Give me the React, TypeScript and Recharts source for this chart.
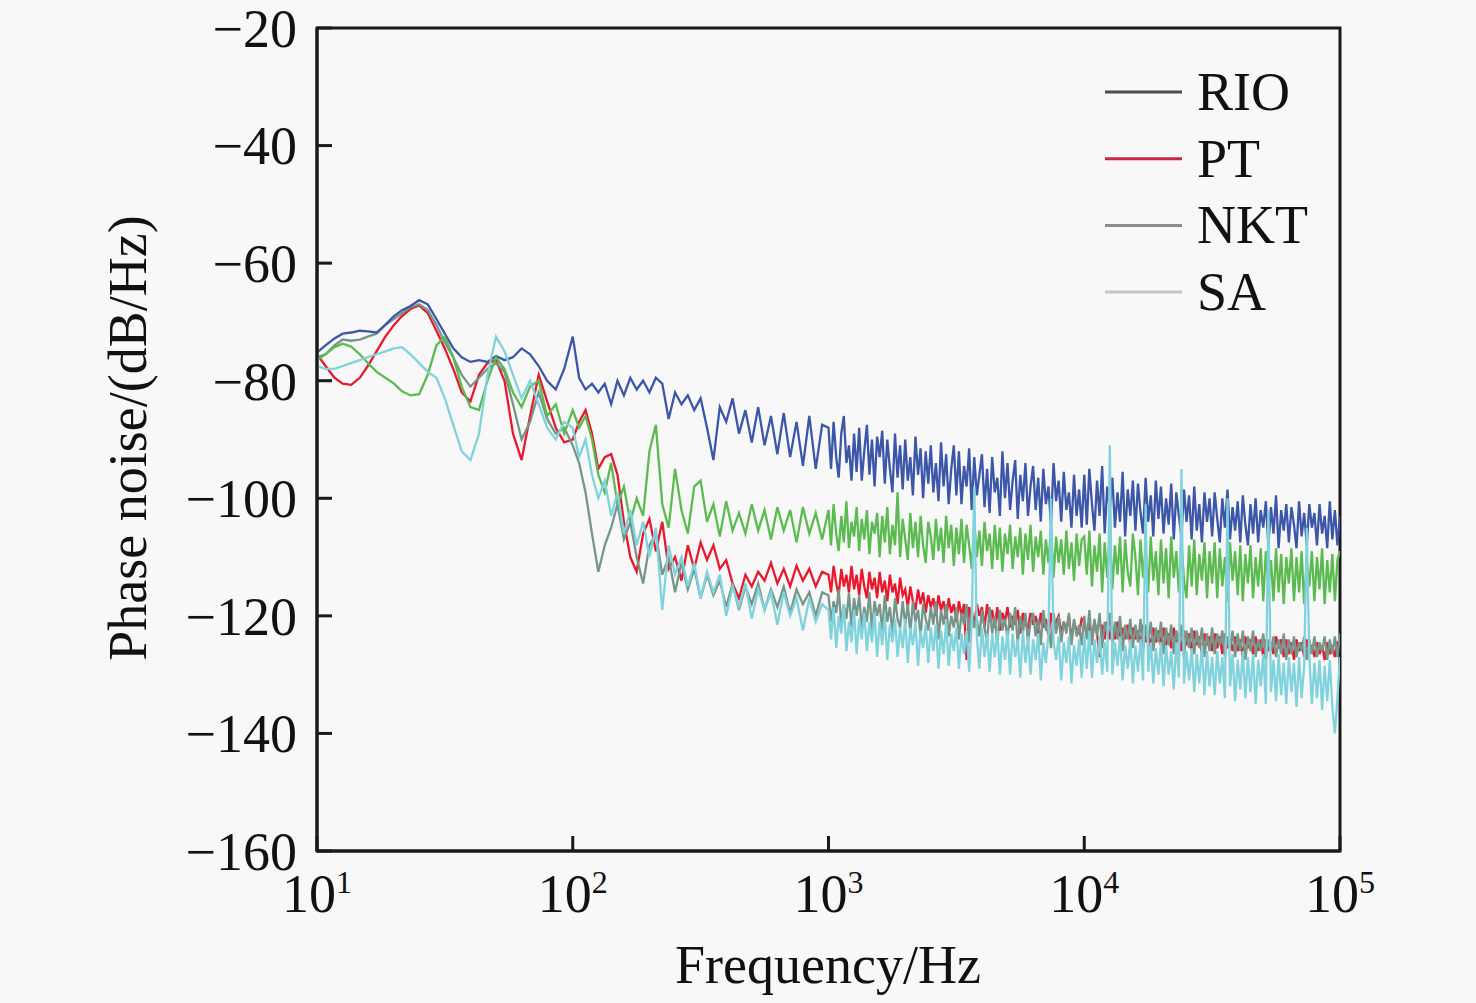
import React from 'react';
import { LineChart, Line, XAxis, YAxis, ReferenceArea, Legend, Label } from 'recharts';

const FONT = '"Liberation Serif", "Times New Roman", serif';
const INK = '#1a1a1a';

// frequency grid (Hz): 30 pts in 10-100, 40 in 100-1k, 100 per decade above
const freq = [
  10, 10.8, 11.7, 12.6, 13.6, 14.7, 15.8, 17.1, 18.5, 20,
  21.5, 23.2, 25.1, 27.1, 29.3, 31.6, 34.1, 36.8, 39.8, 43,
  46.4, 50.1, 54.1, 58.4, 63.1, 68.1, 73.6, 79.4, 85.8, 92.6,
  100, 105.9, 112.2, 118.9, 125.9, 133.4, 141.3, 149.6, 158.5, 167.9,
  177.8, 188.4, 199.5, 211.3, 223.9, 237.1, 251.2, 266.1, 281.8, 298.5,
  316.2, 335, 354.8, 375.8, 398.1, 421.7, 446.7, 473.2, 501.2, 530.9,
  562.3, 595.7, 631, 668.3, 707.9, 749.9, 794.3, 841.4, 891.3, 944.1,
  1000, 1023, 1047, 1072, 1096, 1122, 1148, 1175, 1202, 1230,
  1259, 1288, 1318, 1349, 1380, 1413, 1445, 1479, 1514, 1549,
  1585, 1622, 1660, 1698, 1738, 1778, 1820, 1862, 1905, 1950,
  1995, 2042, 2089, 2138, 2188, 2239, 2291, 2344, 2399, 2455,
  2512, 2570, 2630, 2692, 2754, 2818, 2884, 2951, 3020, 3090,
  3162, 3236, 3311, 3388, 3467, 3548, 3631, 3715, 3802, 3890,
  3981, 4074, 4169, 4266, 4365, 4467, 4571, 4677, 4786, 4898,
  5012, 5129, 5248, 5370, 5495, 5623, 5754, 5888, 6026, 6166,
  6310, 6457, 6607, 6761, 6918, 7079, 7244, 7413, 7586, 7762,
  7943, 8128, 8318, 8511, 8710, 8913, 9120, 9333, 9550, 9772,
  10000, 10230, 10470, 10720, 10960, 11220, 11480, 11750, 12020, 12300,
  12590, 12880, 13180, 13490, 13800, 14130, 14450, 14790, 15140, 15490,
  15850, 16220, 16600, 16980, 17380, 17780, 18200, 18620, 19050, 19500,
  19950, 20420, 20890, 21380, 21880, 22390, 22910, 23440, 23990, 24550,
  25120, 25700, 26300, 26920, 27540, 28180, 28840, 29510, 30200, 30900,
  31620, 32360, 33110, 33880, 34670, 35480, 36310, 37150, 38020, 38900,
  39810, 40740, 41690, 42660, 43650, 44670, 45710, 46770, 47860, 48980,
  50120, 51290, 52480, 53700, 54950, 56230, 57540, 58880, 60260, 61660,
  63100, 64570, 66070, 67610, 69180, 70790, 72440, 74130, 75860, 77620,
  79430, 81280, 83180, 85110, 87100, 89130, 91200, 93330, 95500, 97720,
  100000,
];

const rio = [
  -75.2, -74, -72.8, -72, -71.8, -71.5, -71.6, -71.8, -70.5, -69,
  -68, -67.3, -66.3, -67, -69.5, -72, -74.5, -76, -76.8, -76.5,
  -76.8, -75.8, -76.5, -76, -74.5, -75.5, -77.5, -80, -81.5, -78,
  -72.5, -79.5, -81.5, -80.5, -82, -80.5, -84, -80, -82.5, -79.5,
  -81.5, -80, -82, -79.5, -80.5, -86.5, -82, -84, -82.5, -85,
  -83, -88, -93.5, -84.5, -87, -83, -89, -85, -90.5, -84.5,
  -91, -86, -92.5, -85.5, -93, -87, -94.5, -86, -95, -87.5,
  -88, -95, -87, -93, -96.5, -89, -86, -94, -91, -97,
  -89, -95.5, -88, -97, -92, -87.5, -96, -90, -98, -89.5,
  -93, -88.5, -97.5, -90, -95, -99, -89, -96.5, -91, -98.5,
  -90, -97, -93, -99.5, -89.5, -96, -91.5, -100, -92, -97.5,
  -91, -99, -94, -100.5, -90.5, -98, -92.5, -101, -95, -91,
  -99.5, -92, -101, -94.5, -98, -91.5, -102, -93, -99.5, -96,
  -92.5, -101.5, -95, -102.5, -93, -99, -96.5, -103, -92, -100,
  -94, -102, -97, -93.5, -103.5, -96, -100.5, -94, -103, -98,
  -94.5, -102, -96.5, -104, -95, -101, -98, -104.5, -94, -100.5,
  -97, -104, -95.5, -102, -99, -105, -96, -103, -98.5, -105,
  -96, -104.5, -95, -101, -105.5, -97, -103, -94.5, -106, -98,
  -102, -96.5, -105, -99, -104, -95.5, -106.5, -98.5, -103, -97,
  -105.5, -97.5, -102.5, -106, -96.5, -104, -99.5, -106.5, -97, -103.5,
  -98, -106, -100, -104.5, -97.5, -107, -99, -103, -106.5, -98.5,
  -104, -99.5, -107, -98, -105.5, -101, -107.5, -99, -104, -100,
  -106.5, -99, -103.5, -107.5, -100, -105, -98.5, -107, -101.5, -105.5,
  -100.5, -107.5, -99.5, -104.5, -108, -101, -106, -100, -107.5, -102,
  -105, -100.5, -108, -101.5, -106, -99.5, -108.5, -102, -105.5, -101,
  -107.5, -101.5, -104.5, -108.5, -100.5, -106.5, -102.5, -108, -101, -105,
  -102.5, -108, -101, -106, -103, -108.5, -100.5, -107, -102, -108,
  -103,
];

const pt = [
  -75.5, -77.5, -79.5, -80.5, -80.7, -79.5, -77.5, -75, -72.5, -70.5,
  -69, -67.8, -67.2, -68.5, -71.5, -74.5, -78, -82, -83.5, -79,
  -77, -76.5, -80, -89, -93.5, -86, -79, -83.5, -88, -90.5,
  -90, -87, -85, -89, -95, -93, -92.5, -96, -104, -110,
  -112.5, -106, -103.5, -109, -104, -112, -110, -114, -108, -112,
  -107.5, -110.5, -108, -112, -110.5, -114.5, -117, -113, -115, -112.5,
  -114, -111, -114.5, -112, -115, -111.5, -114, -112, -115, -112.5,
  -113, -116, -111.5, -114.5, -116.5, -112, -115, -113, -116, -111.5,
  -115.5, -113, -116.5, -112, -115, -117, -112.5, -115.5, -113.5, -117,
  -112.5, -116, -114, -117.5, -113, -116, -114.5, -118, -113.5, -116.5,
  -115.5, -118.5, -115, -117.5, -119, -115.5, -118, -116, -119.5, -116.5,
  -118.5, -117, -120, -116.5, -119, -117.5, -120.5, -117, -119.5, -118,
  -121, -117.5, -120, -118, -127.5, -118.5, -120.5, -121.5, -118, -120,
  -118.5, -122, -118, -121, -119, -122, -118.5, -122.5, -119.5, -121,
  -118.5, -122, -120, -121.5, -119, -123, -119.5, -121.5, -122, -119.5,
  -121.5, -120, -123, -119.5, -122, -120.5, -123.5, -119.5, -122, -121,
  -120, -123, -121, -122.5, -120, -124, -121, -122.5, -123, -120.5,
  -121, -123.5, -121.5, -124, -121, -123, -127, -121.5, -124, -121,
  -124, -122, -124, -121, -124.5, -122, -124, -121.5, -125, -122,
  -124, -122.5, -125, -121.5, -124.5, -122.5, -125.5, -122, -124.5, -122.5,
  -125, -122, -125, -123, -125.5, -122, -124.5, -123, -126, -122.5,
  -125, -123, -126, -122.5, -125, -123.5, -126.5, -123, -125, -123.5,
  -126, -123, -125.5, -123.5, -126.5, -123, -125.5, -124, -126, -123.5,
  -126, -124, -127, -123.5, -125.5, -124, -126.5, -123.5, -126, -124,
  -127, -124, -126, -124.5, -126.5, -123.5, -125.5, -124, -127, -124,
  -126.5, -124.5, -127.5, -124, -126, -124.5, -127, -124, -126.5, -125,
  -127, -124.5, -126.5, -125, -127.5, -124.5, -126.5, -125, -127, -124.5,
  -124.5,
];

// grey trace drawn in the plot but not listed in the legend
const extra = [
  -76, -75.5, -74, -73, -73.2, -73, -72.5, -72, -70.5, -69.5,
  -68.5, -67.5, -67, -68, -70.5, -73.5, -76, -79, -81, -79.5,
  -78, -77, -78.5, -84, -90, -87, -82, -86.5, -89, -88,
  -91, -94, -99, -106, -112.5, -108, -105, -101, -107, -104,
  -110, -114.5, -108, -106, -113, -110, -116, -111, -115.5, -112,
  -117, -113, -116.5, -114, -118.5, -114.5, -119, -115, -118, -114.5,
  -119, -115.5, -118.5, -115, -119.5, -115.5, -118, -116, -120, -116,
  -116.5, -121, -117.5, -119.5, -115.5, -121.5, -118, -120.5, -116, -122,
  -117, -120, -116.5, -122, -118.5, -121, -116, -122.5, -117.5, -120,
  -118, -122.5, -116.5, -121, -118.5, -123, -117, -120.5, -122, -117.5,
  -121.5, -118, -123, -117.5, -121, -119, -123.5, -118, -120.5, -122.5,
  -118.5, -121.5, -117.5, -124, -119, -121.5, -118, -123.5, -120, -122,
  -118.5, -124, -119.5, -121.5, -118, -124.5, -119, -122, -120.5, -123.5,
  -119, -122, -124.5, -118.5, -123, -120, -125, -119, -122.5, -120.5,
  -124, -119.5, -122.5, -118.5, -125, -120, -123, -119.5, -124.5, -121,
  -119.5, -123.5, -120.5, -125, -119, -122.5, -121, -125.5, -119.5, -123,
  -120, -124.5, -121, -123, -119.5, -125, -120.5, -123.5, -121.5, -125,
  -120, -124, -119, -125, -120.5, -123.5, -119.5, -125.5, -121, -123,
  -119.5, -125, -121, -124, -120, -126, -121.5, -124, -120.5, -125.5,
  -121.5, -124.5, -120.5, -126, -121.5, -124.5, -121, -126, -122, -124.5,
  -121, -126.5, -122, -125, -121.5, -126.5, -122.5, -125, -121.5, -127,
  -122.5, -125.5, -122, -126.5, -122.5, -125.5, -122, -127, -123, -126,
  -122, -126.5, -123, -125, -122.5, -127, -123.5, -125.5, -122.5, -127,
  -123, -126, -122.5, -127.5, -123.5, -126, -122.5, -127, -124, -126,
  -123, -127.5, -124, -126, -123.5, -127, -124, -126.5, -123, -127.5,
  -124, -126.5, -123.5, -127, -124.5, -126, -123.5, -127.5, -124, -126.5,
  -123.5, -127, -124.5, -126, -123.5, -127.5, -124, -126.5, -123.5, -127,
  -123,
];

const nkt = [
  -76.5, -75.5, -74.3, -73.7, -74.2, -75.5, -77, -78.5, -79.5, -80.5,
  -81.8, -82.5, -82.3, -79, -74, -72.5, -76, -81, -84.5, -85,
  -80, -76, -78, -82, -84.5, -81, -80, -86, -84, -89,
  -85, -88, -86, -90, -96, -99, -94, -101, -98, -104,
  -100, -103, -92, -87.5, -101, -105, -95, -102, -106, -98,
  -97, -104, -101, -106.5, -100.5, -105.5, -102.5, -106, -101, -105.5,
  -102, -107, -101.5, -105.5, -102, -107.5, -101.5, -106, -102.5, -107,
  -102, -108, -101, -106, -109, -103, -107.5, -100.5, -108.5, -104,
  -106.5, -101.5, -109, -103.5, -107, -102, -109.5, -104, -106, -102.5,
  -110, -103, -107.5, -101.5, -109.5, -104.5, -108, -99, -110, -103.5,
  -107, -110.5, -102.5, -108.5, -104, -110, -103, -108, -111, -104,
  -106.5, -110.5, -103.5, -109, -105, -111, -103, -108.5, -104.5, -111.5,
  -105, -109.5, -103.5, -111, -104.5, -108, -112, -104, -110, -105.5,
  -111.5, -104, -109, -106, -112, -104.5, -110.5, -105, -112.5, -106,
  -109.5, -104.5, -112, -106.5, -110, -105, -113, -106, -110.5, -104.5,
  -112.5, -106.5, -110, -105.5, -113, -107, -111, -105, -113.5, -106.5,
  -111, -107, -113, -105.5, -112, -107.5, -114, -106, -111.5, -107,
  -106.5, -113, -105.5, -115, -108, -112.5, -106, -116, -107.5, -113.5,
  -105.5, -115.5, -108, -113, -106.5, -116, -107, -112.5, -115, -106,
  -110, -116.5, -107, -113.5, -108.5, -116, -106.5, -114, -109, -116.5,
  -107, -114.5, -108.5, -117, -106.5, -113.5, -109, -116, -107.5, -114,
  -117, -108, -115, -107, -116.5, -109.5, -114, -107.5, -117, -109,
  -114.5, -107.5, -117, -108.5, -115, -110, -117.5, -107.5, -114, -109,
  -116.5, -108, -117.5, -109.5, -114.5, -108, -117, -110, -115, -108.5,
  -117.5, -109, -115, -110.5, -117.5, -108.5, -116, -109.5, -118, -110,
  -114.5, -108.5, -117.5, -110, -116, -109, -118, -110.5, -115, -109,
  -117.5, -110, -115.5, -108.5, -118, -110.5, -116, -109.5, -117.5, -110.5,
  -109,
];

const sa = [
  -77.5, -78, -78, -77.5, -77, -76.5, -76, -75.5, -75, -74.5,
  -74.3, -75.5, -77, -78.5, -79.5, -83, -87.5, -92, -93.5, -89,
  -79, -72.5, -75, -79, -83, -80, -84, -88, -90, -87,
  -88, -93, -90, -96, -100, -97, -103, -99, -106, -102,
  -108, -104, -110, -105, -119, -108, -113, -110, -115, -111,
  -117, -112.5, -116, -113, -120, -115, -118.5, -114.5, -120.5, -115.5,
  -119, -116, -121.5, -116, -120, -117, -122.5, -117, -121, -118,
  -119, -124, -118.5, -125.5, -120, -123, -118, -126, -121, -124.5,
  -119, -126.5, -120.5, -124, -119.5, -126, -121, -124.5, -119.5, -127,
  -121, -125, -120, -127.5, -121.5, -124.5, -120.5, -127, -122, -125.5,
  -120.5, -128, -122, -125, -121, -128.5, -122.5, -125.5, -121.5, -128,
  -122, -126, -121.5, -129, -122.5, -126.5, -121, -128.5, -123, -126,
  -122, -129, -123, -126.5, -122.5, -129.5, -121.5, -98, -123.5, -129,
  -122, -127, -123, -129.5, -123, -127, -122.5, -130, -123.5, -127.5,
  -122.5, -130, -123, -127, -124, -130.5, -122.5, -128, -123.5, -130,
  -124, -127.5, -123, -131, -124.5, -128, -123, -100, -124.5, -127.5,
  -123.5, -131, -124.5, -128, -123.5, -131.5, -125, -128.5, -124, -130.5,
  -123, -129, -122.5, -130.5, -124, -128, -123.5, -130, -124.5, -129.5,
  -91, -130, -124.5, -128.5, -123.5, -131, -125, -129, -124, -131.5,
  -125, -129.5, -124, -131, -101, -129.5, -124.5, -131.5, -125.5, -130,
  -124.5, -132, -125, -130, -126, -132.5, -124.5, -130.5, -95, -131.5,
  -126, -131, -125.5, -133, -126.5, -131.5, -125, -133.5, -126, -132,
  -127, -133.5, -126, -131.5, -127, -134, -100, -132, -126.5, -134.5,
  -127.5, -132.5, -126, -134, -127, -133, -126.5, -135, -127.5, -132,
  -126.5, -135, -102, -133, -127.5, -134.5, -126.5, -133.5, -128, -135,
  -127, -133, -128, -135.5, -127, -134, -128.5, -105, -127, -135,
  -128, -134, -127.5, -136, -128.5, -134.5, -127.5, -135.5, -140, -134,
  -127,
];

const xTicks = [10, 100, 1000, 10000, 100000];
const yTicks = [-160, -140, -120, -100, -80, -60, -40, -20];

const legendItems = [
  { name: 'RIO', color: '#4d4d4d' },
  { name: 'PT', color: '#c8274a' },
  { name: 'NKT', color: '#8c8c8c' },
  { name: 'SA', color: '#c6c6c6' },
];

const data = freq.map((f, i) => ({
  f,
  rio: rio[i],
  pt: pt[i],
  extra: extra[i],
  nkt: nkt[i],
  sa: sa[i],
}));

const XTick = (props: any) => {
  const { x, y, payload } = props;
  const exp = Math.round(Math.log10(payload.value));
  return (
    <g>
      <line x1={x} y1={y} x2={x} y2={y - 15} stroke={INK} strokeWidth={3} />
      <text x={x} y={y + 61} textAnchor="middle" fontFamily={FONT} fontSize={54} fill="#111">
        10
        <tspan dy={-19} fontSize={32}>{exp}</tspan>
      </text>
    </g>
  );
};

const YTick = (props: any) => {
  const { x, y, payload } = props;
  return (
    <g>
      <line x1={x} y1={y} x2={x + 15} y2={y} stroke={INK} strokeWidth={3} />
      <text x={x - 20} y={y} dy="0.35em" textAnchor="end" fontFamily={FONT} fontSize={54} fill="#111">
        {'\u2212' + Math.abs(payload.value)}
      </text>
    </g>
  );
};

const renderLegend = () => (
  <svg width={280} height={300}>
    {legendItems.map((it, i) => {
      const cy = 42 + i * 66.7;
      return (
        <g key={it.name}>
          <line x1={5} x2={82} y1={cy} y2={cy} stroke={it.color} strokeWidth={3} />
          <text x={97} y={cy + 18} fontFamily={FONT} fontSize={54} fill="#111">
            {it.name}
          </text>
        </g>
      );
    })}
  </svg>
);

export default function App() {
  return (
    <div style={{ position: 'absolute', left: 0, top: 0, width: 1476, height: 1003, background: '#f8f8f8' }}>
      <LineChart width={1476} height={1003} data={data} margin={{ top: 28, right: 136, bottom: 0, left: 0 }}>
        <XAxis
          dataKey="f"
          type="number"
          scale="log"
          domain={[10, 100000]}
          ticks={xTicks}
          allowDataOverflow
          height={152}
          tickSize={0}
          tickMargin={0}
          tick={<XTick />}
          axisLine={{ stroke: INK, strokeWidth: 3 }}
        >
          <Label
            content={() => (
              <text x={828} y={983} textAnchor="middle" fontFamily={FONT} fontSize={54} fill="#111">
                Frequency/Hz
              </text>
            )}
          />
        </XAxis>
        <YAxis
          type="number"
          domain={[-160, -20]}
          ticks={yTicks}
          allowDataOverflow
          width={317}
          tickSize={0}
          tickMargin={0}
          tick={<YTick />}
          axisLine={{ stroke: INK, strokeWidth: 3 }}
        >
          <Label
            content={() => (
              <text
                x={146}
                y={438}
                transform="rotate(-90 146 438)"
                textAnchor="middle"
                fontFamily={FONT}
                fontSize={54}
                fill="#111"
              >
                Phase noise/(dB/Hz)
              </text>
            )}
          />
        </YAxis>
        <Line dataKey="pt" stroke="#e8192c" strokeWidth={2.3} dot={false} isAnimationActive={false} />
        <Line dataKey="extra" stroke="#76958b" strokeWidth={2.3} dot={false} isAnimationActive={false} />
        <Line dataKey="rio" stroke="#3c56a8" strokeWidth={2.3} dot={false} isAnimationActive={false} />
        <Line dataKey="nkt" stroke="#5bbb50" strokeWidth={2.3} dot={false} isAnimationActive={false} />
        <Line dataKey="sa" stroke="#80d2dc" strokeWidth={2.3} dot={false} isAnimationActive={false} />
        <ReferenceArea
          x1={10}
          x2={100000}
          y1={-160}
          y2={-20}
          fill="none"
          fillOpacity={0}
          stroke={INK}
          strokeWidth={3}
          ifOverflow="visible"
        />
        <Legend
          layout="horizontal"
          verticalAlign="middle"
          align="center"
          content={renderLegend}
          wrapperStyle={{ position: 'absolute', left: 1100, top: 50, width: 280, height: 300 }}
        />
      </LineChart>
    </div>
  );
}
